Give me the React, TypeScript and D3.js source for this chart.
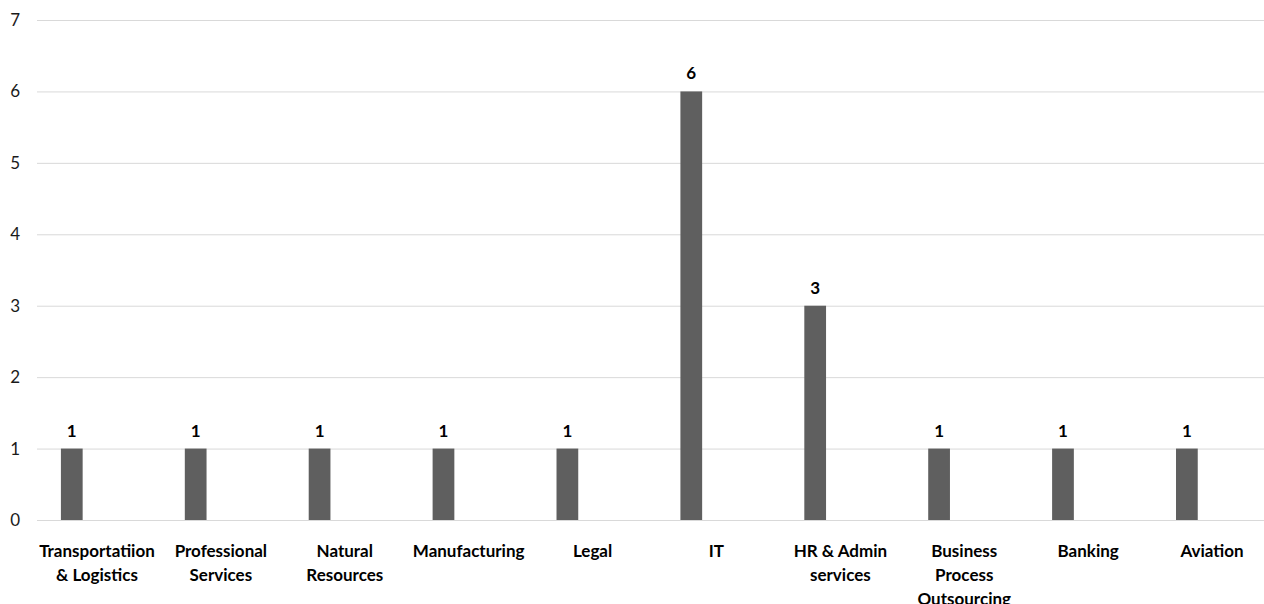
import { useEffect, useRef } from 'react'
import * as d3 from 'd3'

const categories = [
  'Transportatiion & Logistics',
  'Professional Services',
  'Natural Resources',
  'Manufacturing',
  'Legal',
  'IT',
  'HR & Admin services',
  'Business Process Outsourcing',
  'Banking',
  'Aviation',
]
const counts = [1, 1, 1, 1, 1, 6, 3, 1, 1, 1]
const series = ['count', 'blank']
const yTicks = [0, 1, 2, 3, 4, 5, 6, 7]

const FONT = 'Lato, "Open Sans", sans-serif'

// classic d3 word wrap for tick labels
function wrap(sel: any, width: number) {
  sel.each(function (this: any) {
    const text = d3.select(this)
    const words = text.text().split(/\s+/)
    const y = text.attr('y')
    text.text(null)
    let line: string[] = []
    let lineNo = 0
    let tspan = text.append('tspan').attr('x', 0).attr('y', y).attr('dy', '0em')
    for (const w of words) {
      line.push(w)
      tspan.text(line.join(' '))
      if ((tspan.node() as any).getComputedTextLength() > width && line.length > 1) {
        line.pop()
        tspan.text(line.join(' '))
        line = [w]
        lineNo++
        tspan = text.append('tspan').attr('x', 0).attr('y', y).attr('dy', `${lineNo * 24}px`).text(w)
      }
    }
  })
}

const App = () => {
  const ref = useRef<SVGSVGElement>(null)

  useEffect(() => {
    const width = 1264
    const height = 604
    const left = 37
    const right = 1276

    const svg = d3.select(ref.current).attr('width', width).attr('height', height)
    svg.selectAll('*').remove()

    const x = d3.scaleBand().domain(categories).range([left, right])
    const xs = d3.scaleBand().domain(series).range([0, x.bandwidth()])
      .paddingInner(0.6).paddingOuter(0.44)
    const y = d3.scaleLinear().domain([0, 7]).range([520, 20])

    // gridlines
    svg.append('g').selectAll('line').data(yTicks).join('line')
      .attr('x1', left).attr('x2', width)
      .attr('y1', d => y(d) + 0.5).attr('y2', d => y(d) + 0.5)
      .attr('stroke', '#d9d9d9').attr('stroke-width', 1)

    // y axis labels
    svg.append('g').selectAll('text').data(yTicks).join('text')
      .attr('x', 20).attr('y', d => y(d) + 6)
      .attr('text-anchor', 'end')
      .attr('font-family', FONT).attr('font-size', 17).attr('fill', '#1a1a1a')
      .text(d => d)

    // bars
    svg.append('g').selectAll('rect').data(counts).join('rect')
      .attr('x', (d, i) => x(categories[i])! + xs('count')!)
      .attr('width', xs.bandwidth())
      .attr('y', d => y(d))
      .attr('height', d => y(0) - y(d))
      .attr('fill', '#5f5f5f')

    // value labels
    svg.append('g').selectAll('text').data(counts).join('text')
      .attr('x', (d, i) => x(categories[i])! + xs('count')! + xs.bandwidth() / 2)
      .attr('y', d => y(d) - 12)
      .attr('text-anchor', 'middle')
      .attr('font-family', FONT).attr('font-weight', 'bold').attr('font-size', 17)
      .attr('fill', '#000')
      .text(d => d)

    // category labels
    const xAxis = svg.append('g')
    xAxis.selectAll('g').data(categories).join('g')
      .attr('transform', d => `translate(${x(d)! + x.bandwidth() / 2 - 2},0)`)
      .append('text')
      .attr('x', 0).attr('y', 557)
      .attr('text-anchor', 'middle')
      .attr('font-family', FONT).attr('font-weight', 'bold').attr('font-size', 17)
      .attr('fill', '#000')
      .text(d => d)
      .call(wrap, 120)
  }, [])

  return <svg ref={ref} style={{ position: 'absolute', left: 0, top: 0, display: 'block' }}></svg>
}

export default App
